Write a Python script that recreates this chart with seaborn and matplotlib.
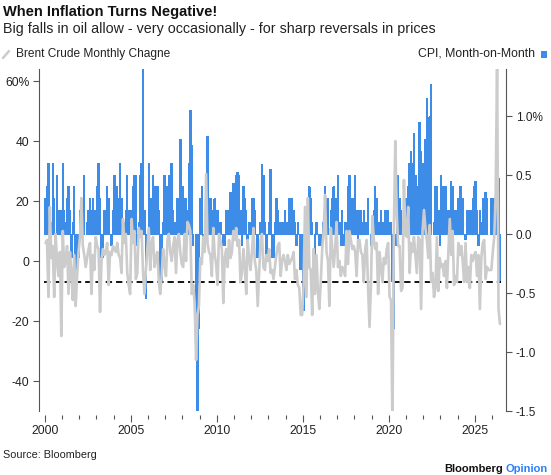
import numpy as np
import seaborn as sns
import matplotlib.pyplot as plt
from matplotlib.lines import Line2D
from matplotlib.patches import Rectangle
from matplotlib.ticker import FixedLocator, FuncFormatter

# data, monthly from Jan 2000
start_year = 2000

# US CPI, month-on-month %
cpi_mom = [
    0.3, 0.4, 0.6, 0.0, 0.1, 0.6, 0.3, 0.0, 0.5, 0.2, 0.2, 0.2,        # 2000
    0.6, 0.2, 0.1, 0.3, 0.4, 0.2, -0.2, 0.1, 0.4, -0.3, -0.1, -0.2,    # 2001
    0.2, 0.2, 0.3, 0.5, 0.0, 0.1, 0.2, 0.3, 0.2, 0.3, 0.2, 0.1,        # 2002
    0.4, 0.6, 0.3, -0.2, -0.2, 0.2, 0.2, 0.4, 0.3, 0.0, -0.1, 0.2,     # 2003
    0.5, 0.4, 0.4, 0.3, 0.6, 0.3, 0.0, 0.1, 0.2, 0.5, 0.2, 0.0,        # 2004
    0.2, 0.4, 0.5, 0.5, -0.1, 0.1, 0.5, 0.6, 1.4, 0.2, -0.55, 0.0,     # 2005
    0.6, 0.1, 0.3, 0.5, 0.4, 0.2, 0.4, 0.2, -0.5, -0.4, 0.1, 0.5,      # 2006
    0.2, 0.4, 0.5, 0.3, 0.6, 0.2, 0.1, 0.0, 0.3, 0.3, 0.8, 0.3,        # 2007
    0.4, 0.3, 0.3, 0.2, 0.6, 1.05, 0.75, -0.1, 0.0, -0.85, -1.7, -0.8, # 2008
    0.3, 0.4, -0.1, 0.0, 0.1, 0.83, 0.0, 0.3, 0.1, 0.2, 0.3, 0.1,      # 2009
    0.2, 0.0, 0.1, 0.0, -0.1, -0.1, 0.2, 0.2, 0.1, 0.35, 0.1, 0.43,    # 2010
    0.4, 0.5, 0.52, 0.5, 0.2, -0.1, 0.4, 0.3, 0.2, -0.1, 0.1, 0.1,     # 2011
    0.3, 0.3, 0.2, 0.0, -0.2, 0.0, 0.1, 0.59, 0.5, 0.1, -0.2, 0.0,     # 2012
    0.1, 0.55, -0.2, -0.2, 0.1, 0.3, 0.2, 0.1, 0.1, 0.0, 0.1, 0.2,     # 2013
    0.1, 0.1, 0.3, 0.3, 0.3, 0.2, 0.1, -0.1, 0.1, 0.0, -0.3, -0.3,     # 2014
    -0.65, 0.2, 0.2, 0.1, 0.4, 0.3, 0.1, 0.0, -0.2, 0.1, 0.0, -0.1,    # 2015
    0.0, -0.1, 0.1, 0.4, 0.3, 0.3, 0.0, 0.2, 0.3, 0.4, 0.2, 0.3,       # 2016
    0.5, 0.1, -0.1, 0.2, -0.1, 0.1, 0.1, 0.4, 0.5, 0.1, 0.3, 0.2,      # 2017
    0.5, 0.2, -0.1, 0.2, 0.2, 0.1, 0.2, 0.1, 0.1, 0.3, 0.0, -0.1,      # 2018
    0.0, 0.2, 0.4, 0.3, 0.1, 0.1, 0.2, 0.1, 0.1, 0.2, 0.2, 0.2,        # 2019
    0.1, 0.1, -0.4, -0.8, -0.1, 0.5, 0.5, 0.3, 0.2, 0.1, 0.2, 0.3,     # 2020
    0.3, 0.4, 0.6, 0.7, 0.6, 0.85, 0.5, 0.3, 0.4, 0.95, 0.7, 0.6,      # 2021
    0.6, 0.8, 1.15, 0.3, 1.0, 1.27, 0.0, 0.1, 0.4, 0.4, 0.2, -0.1,     # 2022
    0.5, 0.4, 0.1, 0.4, 0.1, 0.2, 0.2, 0.45, 0.4, 0.1, 0.2, 0.2,       # 2023
    0.3, 0.4, 0.4, 0.3, 0.0, -0.05, 0.2, 0.2, 0.2, 0.2, 0.3, 0.4,      # 2024
    0.45, 0.2, -0.1, 0.2, 0.1, 0.3, 0.2, 0.35, 0.3, np.nan, np.nan, 0.3,  # 2025
    0.25, 0.3, 0.3, 0.64, 0.47, -0.41,                                # 2026
]

# Brent crude, monthly % change
brent_chg = [
    6, 7, -12, 18, 1, 5, -12, 9, 0, -5, 3, -25,          # 2000
    10, -2, 0, 5, -11, 3, -4, -13, 2, -15, -5, 3,        # 2001
    8, 21, 5, 2, -2, 1, 4, 6, -11, 2, -3, 8,             # 2002
    5, 4, -17, 0, 4, 2, 3, 6, -8, 3, 2, 5,               # 2003
    4, 3, 6, 2, 1, -4, 14, 6, 9, -4, -8, -11,            # 2004
    14, 6, 10, -6, -4, 11, 8, 10, -4, -11, -3, 4,        # 2005
    11, -3, 6, 8, -2, 1, 3, -7, -11, -5, 4, -1,          # 2006
    -5, 7, 9, 3, 0, 5, 8, -4, 7, 9, 3, -1,               # 2007
    -2, 9, 0, 13, 12, 10, -11, -8, -14, -33, -18, -15,   # 2008
    1, -1, 8, 3, 29, 6, 3, 2, -5, 11, 2, -1,             # 2009
    -8, 9, 7, 4, -14, 1, 4, -2, 7, 1, 3, 10,             # 2010
    7, 11, 5, 7, -7, -4, 4, -2, -11, 7, 1, -3,           # 2011
    3, 11, 0, -3, -15, -4, 7, 9, -2, -3, 2, 0,           # 2012
    4, -4, -3, -6, -2, 2, 5, 6, -5, 0, 2, 0,             # 2013
    -3, 2, -1, 0, 1, 3, -6, -3, -8, -9, -18, -18,        # 2014
    -8, 18, -12, 21, -2, -3, -18, 4, -11, 2, -10, -16,   # 2015
    -7, 4, 10, 22, 3, 0, -15, 11, 4, -2, 4, 13,          # 2016
    -2, 0, -5, -2, -3, -5, 10, -1, 10, 7, 4, 5,          # 2017
    3, -5, 7, 7, 3, 2, -7, 4, 7, -9, -22, -8,            # 2018
    15, 7, 4, 6, -11, 3, -2, -7, 1, -1, 4, 6,            # 2019
    -12, -13, -55, 11, 40, 16, 5, 5, -10, -9, 27, 9,     # 2020
    8, 18, -4, 6, 3, 8, 2, -4, 8, 7, -16, 10,            # 2021
    17, 11, 7, 1, 12, -7, -4, -12, -9, 8, -10, 1,        # 2022
    -2, -1, -5, 0, -9, 3, 14, 2, 10, -8, -5, -7,         # 2023
    6, 2, 5, 0, -7, 6, -7, -2, -9, 2, 0, 2,              # 2024
    3, -5, 2, -16, 1, 6, 7, -6, -2, -3, -3, -3,          # 2025
    3, 8, 22, 66, -16, -21,                              # 2026
]

title = "When Inflation Turns Negative!"
subtitle = "Big falls in oil allow - very occasionally - for sharp reversals in prices"
brent_label = "Brent Crude Monthly Chagne"
cpi_label = "CPI, Month-on-Month"

grey = "#cccccc"
blue = "#3d8de8"
axis_col = "#555555"

sns.set_style("ticks")
plt.rcParams["font.family"] = ["Liberation Sans", "DejaVu Sans"]

months = start_year + np.arange(len(cpi_mom)) / 12
cpi = np.array(cpi_mom, dtype=float)
brent = np.array(brent_chg, dtype=float)

fig = plt.figure(figsize=(5.51, 4.75), dpi=100)
ax = fig.add_axes([39 / 551, 1 - 411 / 475, (506 - 39) / 551, (411 - 69) / 475])
ax2 = ax.twinx()

# CPI bars on the right axis (aliased so neighbours touch without seams)
ax2.bar(months, cpi, width=1 / 12, color=blue, linewidth=0,
        align="edge", snap=False, antialiased=False)
# dashed line at the latest CPI reading
ax2.plot([months[0] - 1 / 24, months[-1] + 1 / 12], [cpi[-1], cpi[-1]],
         color="black", lw=1.3, ls=(0, (3.5, 2.2)))

# Brent line on the left axis, drawn above the bars
sns.lineplot(x=months + 1 / 24, y=brent, ax=ax, color=grey, lw=1.9)
ax.set_zorder(ax2.get_zorder() + 1)
ax.patch.set_visible(False)

ax.set_xlim(1999.66, 2026.81)
ax.set_ylim(-50, 64)
ax2.set_ylim(-1.5, 1.4)

for a in (ax, ax2):
    for s in a.spines.values():
        s.set_visible(False)
    a.spines["bottom"].set_position(("outward", 3))
ax.spines["left"].set_visible(True)
ax.spines["left"].set_color(axis_col)
ax2.spines["right"].set_visible(True)
ax2.spines["right"].set_color(axis_col)

ax.set_yticks([-40, -20, 0, 20, 40, 60])
ax.yaxis.set_major_formatter(FuncFormatter(lambda v, p: f"{v:.0f}%" if v == 60 else f"{v:.0f}"))
ax2.set_yticks([-1.5, -1.0, -0.5, 0.0, 0.5, 1.0])
ax2.yaxis.set_major_formatter(FuncFormatter(lambda v, p: f"{v:.1f}%" if v == 1.0 else f"{v:.1f}"))

ax.set_xticks(range(2000, 2030, 5))
ax.xaxis.set_minor_locator(FixedLocator([y for y in range(2000, 2027) if y % 5]))
ax.set_xticklabels([str(y) for y in range(2000, 2030, 5)])

ax.tick_params(axis="y", length=4, width=0.8, color=axis_col, labelsize=8.7, pad=3, labelcolor="#222")
ax2.tick_params(axis="y", length=4, width=0.8, color=axis_col, labelsize=8.5, pad=3, labelcolor="#222")
ax.tick_params(axis="x", which="major", length=5, width=0.8, color=axis_col, labelsize=8.7, pad=2, labelcolor="#222")
ax.tick_params(axis="x", which="minor", length=3, width=0.8, color=axis_col)
ax.set_xlabel("")
ax.set_ylabel("")

# titles
fig.text(3 / 551, 1 - 12 / 475, title, fontsize=10.5, fontweight="bold", va="center", ha="left", color="#111")
fig.text(3 / 551, 1 - 29 / 475, subtitle, fontsize=10.3, va="center", ha="left", color="#222")

# legend row
fig.add_artist(Line2D([3 / 551, 9 / 551], [1 - 58 / 475, 1 - 51 / 475], color=grey, lw=1.8))
fig.text(16 / 551, 1 - 54 / 475, brent_label, fontsize=8.6, va="center", ha="left", color="#222")
fig.add_artist(Rectangle((541 / 551, 1 - 58 / 475), 6 / 551, 7 / 475, color=blue, lw=0))
fig.text(535 / 551, 1 - 54 / 475, cpi_label, fontsize=8.8, va="center", ha="right", color="#222")

# footer
fig.text(3 / 551, 1 - 455 / 475, "Source: Bloomberg", fontsize=7.8, va="center", ha="left", color="#222")
t_op = fig.text(548 / 551, 1 - 469 / 475, "Opinion", fontsize=8, fontweight="bold",
                va="center", ha="right", color="#2a7fff")
fig.canvas.draw()
bb = t_op.get_window_extent()
fig.text((bb.x0 - 3) / 551, 1 - 469 / 475, "Bloomberg", fontsize=8, fontweight="bold",
         va="center", ha="right", color="#111")

fig.savefig("out.png", dpi=100)
